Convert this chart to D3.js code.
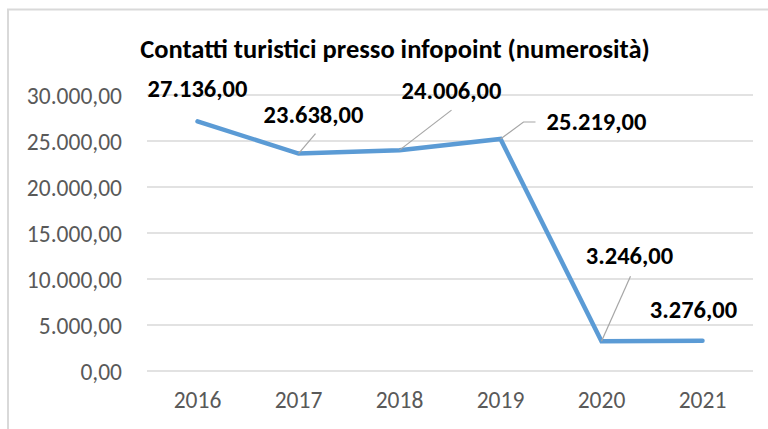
<!DOCTYPE html>
<html>
<head>
<meta charset="utf-8">
<script src="https://cdn.jsdelivr.net/npm/d3@7"></script>
<style>
  html, body { margin: 0; padding: 0; background: #fff; }
  svg { display: block; }
</style>
</head>
<body>
<svg id="chart" width="768" height="429"></svg>
<script>
// ---- data ----
const years = ["2016", "2017", "2018", "2019", "2020", "2021"];
const contacts = [27136, 23638, 24006, 25219, 3246, 3276];
const yTicks = [0, 5000, 10000, 15000, 20000, 25000, 30000];
const title = "Contatti turistici presso infopoint (numerosità)";

// ---- layout (label offsets relative to point, leader polylines) ----
const labelOffsets = [
  { dx: 0,    dy: -24, leader: null },
  { dx: 15,   dy: -31, leader: [[17, -20]] },
  { dx: 52,   dy: -51, leader: [[52, -40]] },
  { dx: 96,   dy: -9,  leader: [[23, -17], [35, -17]] },
  { dx: 28,   dy: -77, leader: [[29, -65]] },
  { dx: -9,   dy: -23, leader: null }
];

const fmt = v => {
  const s = Math.round(v).toString().replace(/\B(?=(\d{3})+(?!\d))/g, ".");
  return s + ",00";
};

const svg = d3.select("#chart");
const FONT = "Carlito, Calibri, Lato, 'Open Sans', sans-serif";

// frame
svg.append("path")
  .attr("d", "M8,429 V9.5 H768")
  .attr("fill", "none")
  .attr("stroke", "#d9d9d9")
  .attr("stroke-width", 2);

const x = d3.scaleBand().domain(years).range([147, 753]).padding(0);
const y = d3.scaleLinear().domain([0, 30000]).range([371, 95]);
const cx = d => x(d) + x.bandwidth() / 2;

// gridlines
svg.append("g").selectAll("line").data(yTicks).join("line")
  .attr("x1", 147).attr("x2", 753)
  .attr("y1", d => y(d)).attr("y2", d => y(d))
  .attr("stroke", "#d9d9d9").attr("stroke-width", 1.5);

// y axis labels
const yAxis = d3.axisLeft(y).tickValues(yTicks).tickFormat(fmt).tickSize(0).tickPadding(0);
const gy = svg.append("g").attr("transform", "translate(122,0)").call(yAxis);
gy.select(".domain").remove();
gy.selectAll("text")
  .attr("font-family", FONT).attr("font-size", 23.5).attr("fill", "#595959")
  .attr("dy", "0.34em");

// x axis labels
const xAxis = d3.axisBottom(x).tickSize(0).tickPadding(0);
const gx = svg.append("g").attr("transform", "translate(0,391)").call(xAxis);
gx.select(".domain").remove();
gx.selectAll("text")
  .attr("font-family", FONT).attr("font-size", 23.5).attr("fill", "#595959")
  .attr("dy", "0.71em");

// title
svg.append("text")
  .attr("x", 395).attr("y", 57.5)
  .attr("text-anchor", "middle")
  .attr("font-family", FONT).attr("font-weight", "bold").attr("font-size", 26.5)
  .attr("fill", "#000")
  .text(title);

// line
const line = d3.line().x((d, i) => cx(years[i])).y(d => y(d));
svg.append("path")
  .datum(contacts)
  .attr("d", line)
  .attr("fill", "none")
  .attr("stroke", "#5b9bd5")
  .attr("stroke-width", 4.5)
  .attr("stroke-linejoin", "miter")
  .attr("stroke-linecap", "round");

// leader lines
contacts.forEach((v, i) => {
  const o = labelOffsets[i];
  if (!o.leader) return;
  const px = cx(years[i]), py = y(v);
  const pts = [[px, py]].concat(o.leader.map(p => [px + p[0], py + p[1]]));
  svg.append("path")
    .attr("d", d3.line()(pts))
    .attr("fill", "none")
    .attr("stroke", "#a6a6a6")
    .attr("stroke-width", 1.2);
});

// data labels
svg.append("g").selectAll("text").data(contacts).join("text")
  .attr("x", (d, i) => cx(years[i]) + labelOffsets[i].dx)
  .attr("y", (d, i) => y(d) + labelOffsets[i].dy)
  .attr("text-anchor", "middle")
  .attr("font-family", FONT).attr("font-weight", "bold").attr("font-size", 24.5)
  .attr("fill", "#000")
  .text(d => fmt(d));
</script>
</body>
</html>
